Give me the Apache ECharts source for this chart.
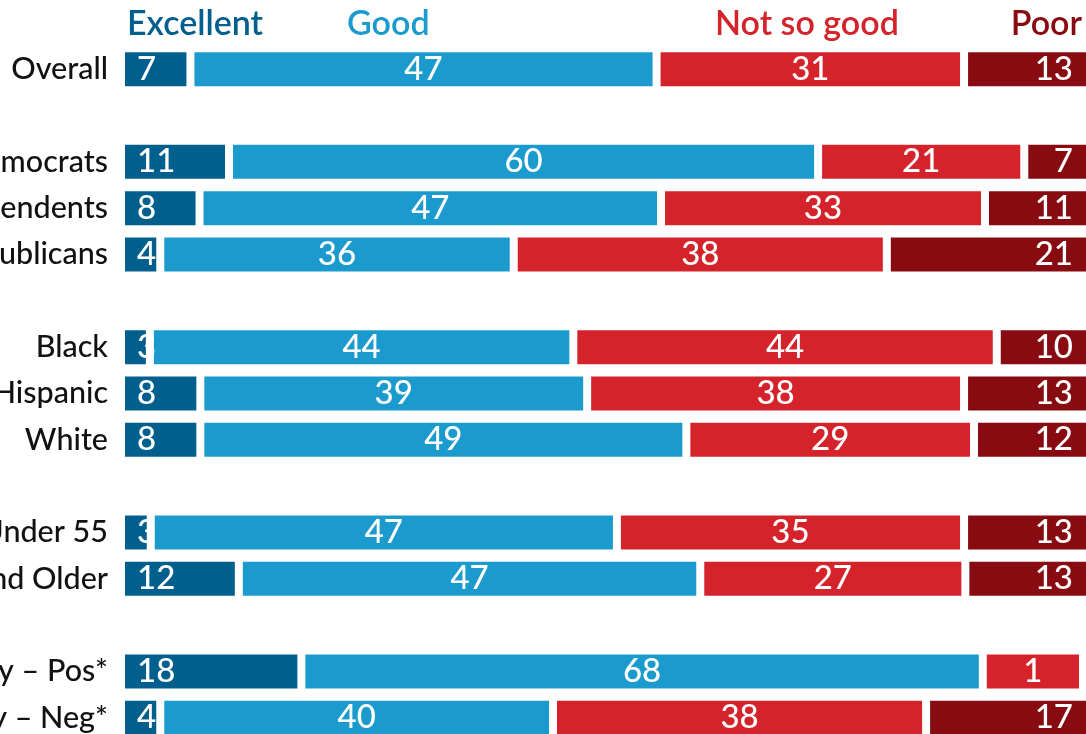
<!DOCTYPE html>
<html><head><meta charset="utf-8">
<script src="https://cdn.jsdelivr.net/npm/echarts@6/dist/echarts.min.js"></script>
<style>html,body{margin:0;padding:0;background:#fff}#c{width:1086px;height:734px}</style>
</head><body><div id="c"></div>
<script>
const categories = ['Overall', '', 'Democrats', 'Independents', 'Republicans', '', 'Black', 'Hispanic', 'White', '', 'Under 55', '55 and Older', '', 'Economy – Pos*', 'Economy – Neg*'];
const excellent = [7, null, 11, 8, 4, null, 3, 8, 8, null, 3, 12, null, 18, 4];
const good      = [47, null, 60, 47, 36, null, 44, 39, 49, null, 47, 47, null, 68, 40];
const notSoGood = [31, null, 21, 33, 38, null, 44, 38, 29, null, 35, 27, null, 10, 38];
const poor      = [13, null, 7, 11, 21, null, 10, 13, 12, null, 13, 13, null, 1, 17];
const seriesNames = ['Excellent', 'Good', 'Not so good', 'Poor'];
const colors = ['#005f8c', '#1b9bcd', '#d4232b', '#870b10'];

// printed labels (as shown in the picture)
const toText = arr => arr.map(v => v == null ? '' : String(v));
const excellentText = toText(excellent);
const goodText = toText(good);
const notSoGoodText = toText(notSoGood); notSoGoodText[13] = '1';
const poorText = toText(poor); poorText[13] = '';

const all = [excellent, good, notSoGood, poor];
const texts = [excellentText, goodText, notSoGoodText, poorText];
const rowTotals = categories.map((c, i) => all.reduce((s, a) => s + (a[i] || 0), 0));

const positions = [
  {position: 'insideLeft', distance: 16},
  {position: 'inside'},
  {position: 'inside'},
  {position: 'insideRight', distance: 20}
];

const FONT = 'Lato, "Open Sans", sans-serif';

const series = all.map((arr, si) => ({
  name: seriesNames[si],
  type: 'bar',
  stack: 'total',
  barWidth: 42,
  silent: true,
  itemStyle: {color: colors[si], borderColor: '#ffffff', borderWidth: 4},
  label: Object.assign({
    show: true, color: '#ffffff', fontSize: 33, fontFamily: FONT, fontWeight: 500,
    formatter: p => texts[si][p.dataIndex]
  }, positions[si]),
  data: arr.map((v, i) => v == null ? null : v / rowTotals[i] * 100)
}));

const chart = echarts.init(document.getElementById('c'), null, {renderer: 'canvas'});
chart.setOption({
  backgroundColor: '#ffffff',
  animation: false,
  grid: {left: 121, top: 46, width: 972, height: 695, containLabel: false, outerBoundsMode: 'none'},
  xAxis: {type: 'value', min: 0, max: 100, show: false},
  yAxis: {
    type: 'category', inverse: true, data: categories,
    axisLine: {show: false}, axisTick: {show: false}, splitLine: {show: false},
    axisLabel: {color: '#111111', fontSize: 30.5, fontFamily: FONT, fontWeight: 500, margin: 13, align: 'right'}
  },
  graphic: [
    {type: 'text', left: 127, top: 7, style: {text: 'Excellent', fill: colors[0], font: '600 34px ' + FONT}},
    {type: 'text', left: 347, top: 7, style: {text: 'Good', fill: colors[1], font: '600 34px ' + FONT}},
    {type: 'text', left: 715, top: 7, style: {text: 'Not so good', fill: colors[2], font: '600 34px ' + FONT}},
    {type: 'text', right: 4, top: 7, style: {text: 'Poor', fill: colors[3], font: '600 34px ' + FONT}}
  ],
  series: series
});
</script>
</body></html>
